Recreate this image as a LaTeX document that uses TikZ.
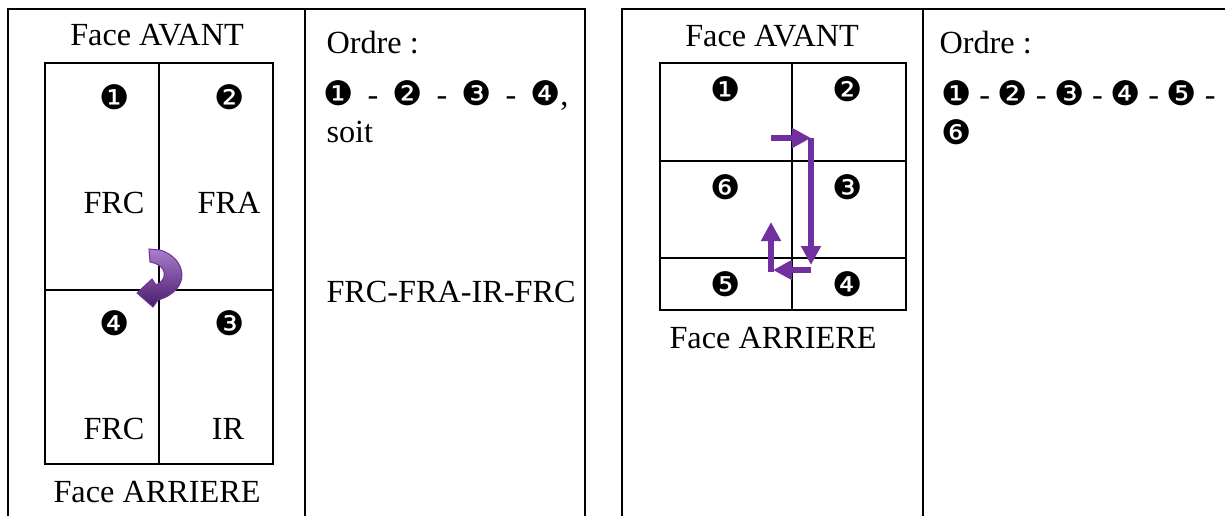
\documentclass[tikz,border=0pt]{standalone}
\usepackage{fontspec}
\setmainfont{Liberation Serif}
\newfontfamily\dingfont{DejaVu Sans}
\usetikzlibrary{arrows.meta}
\definecolor{violetfleche}{RGB}{112,48,160}
\definecolor{violetclair}{RGB}{170,125,205}
\definecolor{violetfonce}{RGB}{72,28,105}
\newcommand{\pastille}[1]{{\dingfont\fontsize{13.5}{15}\selectfont #1}}
\tikzset{
  cadre/.style={line width=0.7pt},
  grille/.style={line width=0.55pt},
  texte/.style={inner sep=0pt,anchor=base},
  num/.style={inner sep=0pt},
  fleche/.style={violetfleche,line width=2.7pt,-{Triangle[length=7.6pt,width=7.6pt]}},
}
\begin{document}
\begin{tikzpicture}[x=0.4pt,y=-0.4pt,font=\rmfamily\fontsize{12.9}{15}\selectfont]
                \useasboundingbox (0,0) rectangle (1225,516);
                % \draw[help lines,step=50] (0,0) grid (1225,516);

                % tableau de gauche
                \draw[cadre] (8,516)--(8,9)--(585,9)--(585,516);
                \draw[cadre] (305,9)--(305,516);
                \draw[grille] (45,63) rectangle (273,464);
                \draw[grille] (159,63)--(159,464);
                \draw[grille] (45,290)--(273,290);

                \node[texte] (avantG) at (157,45) {Face AVANT};
                \node[texte] (arriereG) at (157,502) {Face ARRIERE};
                \node[num] (g1) at (115,97) {\pastille{❶}};
                \node[num] (g2) at (230,97) {\pastille{❷}};
                \node[num] (g4) at (115,323) {\pastille{❹}};
                \node[num] (g3) at (230,323) {\pastille{❸}};
                \node[texte] (frcA) at (114,213) {FRC};
                \node[texte] (fra) at (229,213) {FRA};
                \node[texte] (frcB) at (114,439) {FRC};
                \node[texte] (ir) at (228,439) {IR};

                \node[texte,anchor=base west] (ordreG) at (326,53) {Ordre :};
                \node[inner sep=0pt,anchor=base west,text width=98pt] (suiteG) at (323,105)
                  {\pastille{❶}\hfill-\hfill\pastille{❷}\hfill-\hfill\pastille{❸}\hfill-\hfill\pastille{❹},};
                \node[texte,anchor=base west] (soit) at (326,142) {soit};
                \node[texte,anchor=base west] (sens) at (326,302) {FRC-FRA-IR-FRC};

                % fleche courbe
                \coordinate (queue) at (149,249);
                \coordinate (pointe) at (137,293);
                \shade[top color=violetclair,bottom color=violetfonce,draw=violetfleche,line width=0.4pt]
                  (queue)--(160,250) .. controls (187,258) and (192,290) .. (158,300)
                  --(153,307)--(pointe)--(152,279)--(156,285)
                  .. controls (168,280) and (168,265) .. (150,262)--cycle;

                % tableau de droite
                \draw[cadre] (622,516)--(622,9)--(1225,9);
                \draw[cadre] (923,9)--(923,516);
                \draw[grille] (660,63) rectangle (906,310);
                \draw[grille] (792,63)--(792,310);
                \draw[grille] (660,161)--(906,161);
                \draw[grille] (660,258)--(906,258);

                \node[texte] (avantD) at (772,46) {Face AVANT};
                \node[texte] (arriereD) at (773,348) {Face ARRIERE};
                \node[num] (d1) at (726,89) {\pastille{❶}};
                \node[num] (d2) at (848,89) {\pastille{❷}};
                \node[num] (d6) at (726,187) {\pastille{❻}};
                \node[num] (d3) at (848,187) {\pastille{❸}};
                \node[num] (d5) at (726,284) {\pastille{❺}};
                \node[num] (d4) at (848,284) {\pastille{❹}};

                \node[texte,anchor=base west] (ordreD) at (939,53) {Ordre :};
                \node[inner sep=0pt,anchor=base west,text width=109.6pt] (suiteD) at (941,105)
                  {\pastille{❶}\hfill-\hfill\pastille{❷}\hfill-\hfill\pastille{❸}\hfill-\hfill\pastille{❹}\hfill-\hfill\pastille{❺}\hfill-};
                \node[num,anchor=west] (d6bis) at (941,132) {\pastille{❻}};

                % parcours
                \coordinate (p1) at (771,138);
                \coordinate (p2) at (811,138);
                \coordinate (p3) at (811,265);
                \coordinate (p4) at (811,270);
                \coordinate (p5) at (773,270);
                \coordinate (p6) at (771,272);
                \coordinate (p7) at (771,222);
                \draw[fleche] (p1)--(p2);
                \draw[fleche] (p2)--(p3);
                \draw[fleche] (p4)--(p5);
                \draw[fleche] (p6)--(p7);

            \end{tikzpicture}
\end{document}
